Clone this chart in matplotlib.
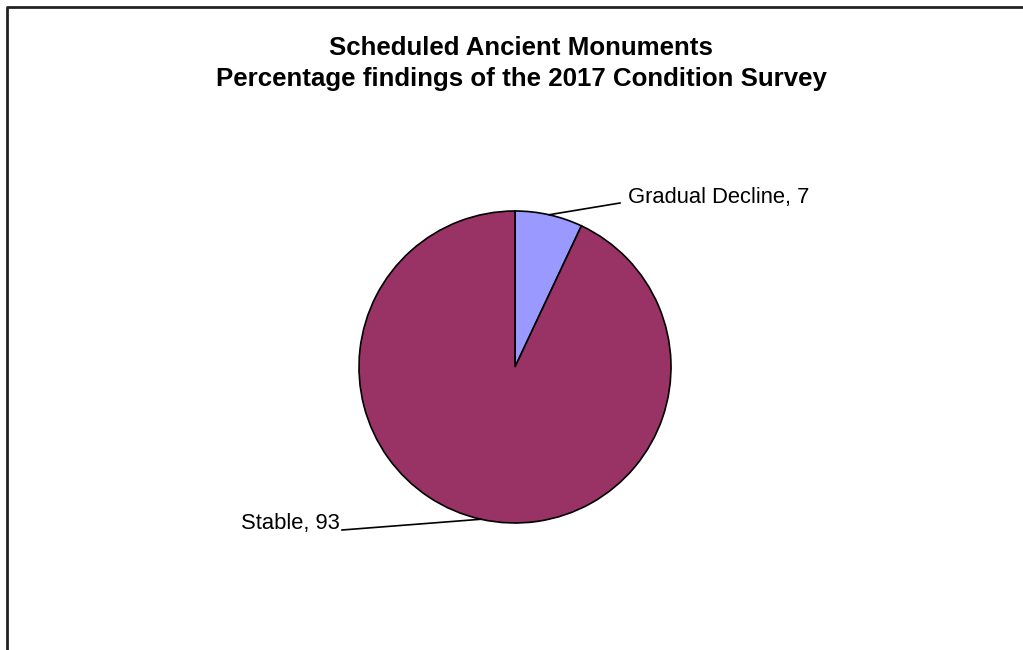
import numpy as np
import matplotlib.pyplot as plt

plt.rcParams['font.family'] = ['Liberation Sans', 'DejaVu Sans']

labels = ['Gradual Decline', 'Stable']
values = [7, 93]
colors = ['#9999FF', '#993366']

W, H = 1023, 650
cx, cy, r = 515, H - 367, 156

fig = plt.figure(figsize=(W / 100, H / 100), dpi=100)
ax = fig.add_axes([0, 0, 1, 1])

wedges, _ = ax.pie(values, colors=colors, startangle=90, counterclock=False,
                   center=(cx, cy), radius=r, frame=True,
                   wedgeprops=dict(edgecolor='black', linewidth=1.2))

ax.set_xlim(0, W)
ax.set_ylim(0, H)
ax.set_aspect('equal')
ax.axis('off')

# chart area border (left and top edges)
ax.plot([7, 7, W], [0, H - 7, H - 7], color='#222222', lw=2, clip_on=False)

ax.text(521, H - 48, 'Scheduled Ancient Monuments', ha='center', va='center',
        fontsize=18.6, fontweight='bold')
ax.text(521, H - 79, 'Percentage findings of the 2017 Condition Survey',
        ha='center', va='center', fontsize=18.6, fontweight='bold')

# leader lines and labels from mid-angle of each wedge
ends = [(620, H - 203), (342, H - 530)]
for w, lab, v, (ex, ey) in zip(wedges, labels, values, ends):
    ang = np.deg2rad((w.theta1 + w.theta2) / 2)
    sx, sy = cx + r * np.cos(ang), cy + r * np.sin(ang)
    ax.plot([sx, ex], [sy, ey], color='black', lw=1.2)
    if ex > cx:
        ax.text(ex + 8, ey + 5, f'{lab}, {v}', ha='left', va='center', fontsize=15.8)
    else:
        ax.text(ex - 2, ey + 6, f'{lab}, {v}', ha='right', va='center', fontsize=15.8)

fig.savefig('out.png', dpi=100)
